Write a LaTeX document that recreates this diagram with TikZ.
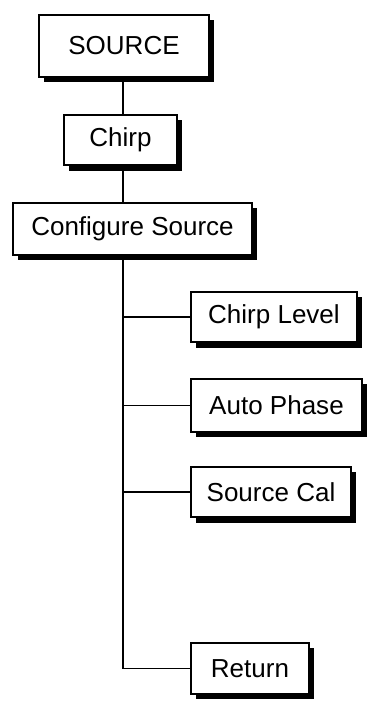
\documentclass[tikz,border=0pt]{standalone}
\usepackage{fontspec}
\setmainfont{Liberation Sans}
\usetikzlibrary{shadows}
\tikzset{
  menubox/.style={draw, line width=1.3pt, fill=white, inner sep=0pt,
    minimum height=1.27cm, font=\fontsize{18.5}{22}\selectfont,
    general shadow={fill=black, shadow xshift=0.13cm, shadow yshift=-0.13cm}},
  link/.style={line width=1.4pt}
}
\begin{document}
\begin{tikzpicture}[x=0.025cm, y=-0.025cm, line join=miter]
				\useasboundingbox (0,0) rectangle (368,711);
				% menu boxes
				\node[menubox, minimum width=4.25cm, minimum height=1.55cm] (src) at (124,46) {SOURCE};
				\node[menubox, minimum width=2.83cm] (chirp) at (120.5,140) {Chirp};
				\node[menubox, minimum width=5.97cm, minimum height=1.3cm] (cfg) at (132.5,229) {Configure Source};
				\node[menubox, minimum width=4.15cm] (lvl) at (274,317) {Chirp Level};
				\node[menubox, minimum width=4.27cm, minimum height=1.32cm] (phase) at (276.5,405.5) {Auto Phase};
				\node[menubox, minimum width=4.0cm] (cal) at (271,492) {Source Cal};
				\node[menubox, minimum width=2.95cm] (ret) at (250,668.5) {Return};
				\coordinate (trunk) at (123,255);
				% connectors
				\draw[link] (src.south -| trunk) -- (chirp.north -| trunk);
				\draw[link] (chirp.south -| trunk) -- (cfg.north -| trunk);
				\draw[link] (cfg.south -| trunk) |- (ret.west);
				\foreach \b in {lvl, phase, cal} {
					\draw[link] (trunk |- \b.west) -- (\b.west);
				}
			\end{tikzpicture}
\end{document}
